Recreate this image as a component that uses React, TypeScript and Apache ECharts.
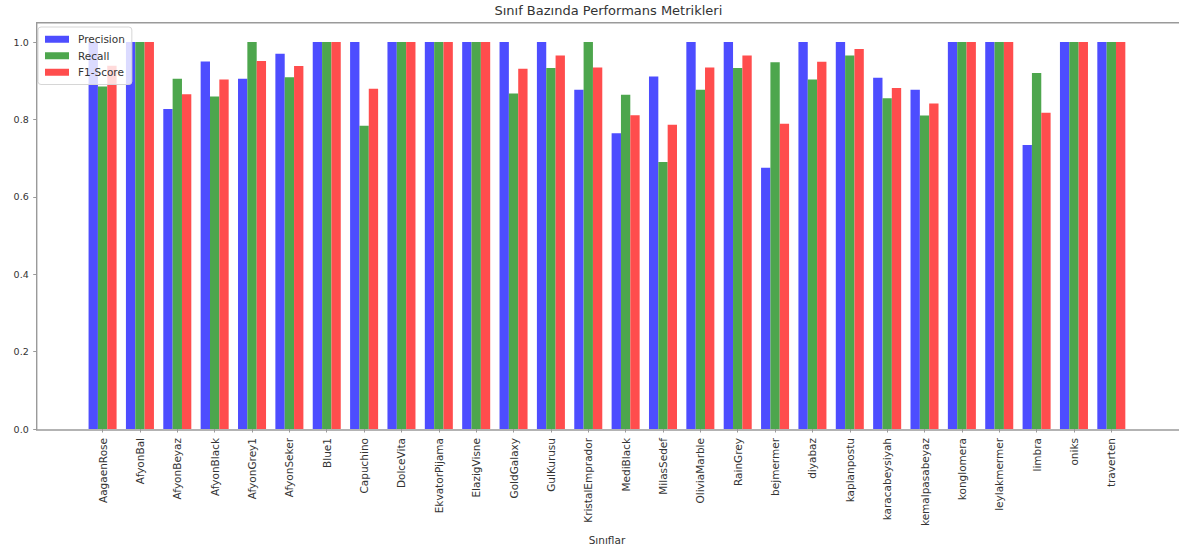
import React, { useEffect, useRef } from "react";
import * as echarts from "echarts";

const categories = [
  "AagaenRose", "AfyonBal", "AfyonBeyaz", "AfyonBlack", "AfyonGrey1", "AfyonSeker", "Blue1",
  "Capuchino", "DolceVita", "EkvatorPijama", "ElazigVisne", "GoldGalaxy", "GulKurusu",
  "KristalEmprador", "MediBlack", "MilasSedef", "OliviaMarble", "RainGrey", "bejmermer",
  "diyabaz", "kaplanpostu", "karacabeysiyah", "kemalpasabeyaz", "konglomera", "leylakmermer",
  "limbra", "oniks", "traverten",
];

const precision = [
  1.0, 1.0, 0.827, 0.95, 0.905, 0.97, 1.0, 1.0, 1.0, 1.0, 1.0, 1.0, 1.0, 0.877, 0.764, 0.911,
  1.0, 1.0, 0.675, 1.0, 1.0, 0.908, 0.877, 1.0, 1.0, 0.734, 1.0, 1.0,
];
const recall = [
  0.885, 1.0, 0.905, 0.859, 1.0, 0.909, 1.0, 0.784, 1.0, 1.0, 1.0, 0.867, 0.933, 1.0, 0.864, 0.69,
  0.877, 0.933, 0.948, 0.903, 0.965, 0.855, 0.81, 1.0, 1.0, 0.92, 1.0, 1.0,
];
const f1Score = [
  0.939, 1.0, 0.865, 0.903, 0.951, 0.938, 1.0, 0.879, 1.0, 1.0, 1.0, 0.931, 0.965, 0.934, 0.811,
  0.786, 0.934, 0.965, 0.789, 0.949, 0.982, 0.881, 0.841, 1.0, 1.0, 0.817, 1.0, 1.0,
];

const seriesNames = ["Precision", "Recall", "F1-Score"];
const yTicks = [0, 0.2, 0.4, 0.6, 0.8, 1.0];

const W = 1179;
const H = 550;
const FRAME_L = 36.7;
const FRAME_R = 1180;
const FRAME_T = 22.7;
const FRAME_B = 430;
const GRID_L = 83.9;
const GRID_R = 1130;
const FONT = "DejaVu Sans";
const TXT = "#333";
const SPINE = "#9a9a9a";

export default function App() {
  const ref = useRef<HTMLDivElement>(null);
  useEffect(() => {
    if (!ref.current) return;
    const chart = echarts.init(ref.current, undefined, { renderer: "svg" });
    const colors = ["#4d4dff", "#4da64d", "#ff4d4d"];
    const datasets = [precision, recall, f1Score];
    chart.setOption({
      animation: false,
      backgroundColor: "#fff",
      textStyle: { fontFamily: FONT },
      title: {
        text: "Sınıf Bazında Performans Metrikleri",
        left: (FRAME_L + FRAME_R) / 2,
        top: 4,
        textAlign: "center",
        padding: 0,
        textStyle: { fontFamily: FONT, fontSize: 13, fontWeight: "normal", color: TXT },
      },
      legend: {
        data: seriesNames,
        orient: "vertical",
        left: 38,
        top: 27,
        padding: [6, 7, 6, 7],
        itemWidth: 24,
        itemHeight: 7,
        itemGap: 4,
        icon: "rect",
        backgroundColor: "rgba(255,255,255,0.8)",
        borderColor: "#d6d6d6",
        borderWidth: 1,
        borderRadius: 3,
        textStyle: { fontFamily: FONT, fontSize: 10.5, color: TXT, lineHeight: 12.5, padding: [0, 0, 0, 4] },
      },
      grid: {
        left: GRID_L,
        right: W - GRID_R,
        top: FRAME_T,
        bottom: H - FRAME_B,
        containLabel: false,
      },
      xAxis: {
        type: "category",
        data: categories,
        name: "Sınıflar",
        nameLocation: "middle",
        nameGap: 105,
        nameTextStyle: { fontFamily: FONT, fontSize: 10.5, color: TXT },
        axisLine: { show: false },
        axisTick: { show: true, alignWithLabel: true, length: 3.5, lineStyle: { color: SPINE } },
        axisLabel: { rotate: 90, fontFamily: FONT, fontSize: 10.5, color: TXT, margin: 9, interval: 0 },
        splitLine: { show: false },
      },
      yAxis: {
        type: "value",
        min: 0,
        max: 1.05,
        interval: 0.2,
        offset: GRID_L - FRAME_L,
        axisLine: { show: false },
        axisTick: { show: true, length: 3.5, lineStyle: { color: SPINE } },
        axisLabel: {
          fontFamily: FONT,
          fontSize: 9.5,
          color: TXT,
          margin: 8,
          showMaxLabel: false,
          formatter: (v: number) => (yTicks.some((t) => Math.abs(t - v) < 1e-6) ? v.toFixed(1) : ""),
        },
        splitLine: { show: false },
      },
      graphic: [
        {
          type: "rect",
          z: 10,
          silent: true,
          shape: { x: FRAME_L, y: FRAME_T, width: FRAME_R - FRAME_L, height: FRAME_B - FRAME_T },
          style: { fill: "none", stroke: SPINE, lineWidth: 1.4 },
        },
      ],
      series: seriesNames.map((name, i) => ({
        name,
        type: "bar",
        data: datasets[i],
        barWidth: "25%",
        barGap: "0%",
        itemStyle: { color: colors[i] },
        z: 2,
      })),
    });
    return () => chart.dispose();
  }, []);
  return (
    <div
      ref={ref}
      style={{ position: "absolute", left: 0, top: 0, width: W, height: H }}
    />
  );
}
